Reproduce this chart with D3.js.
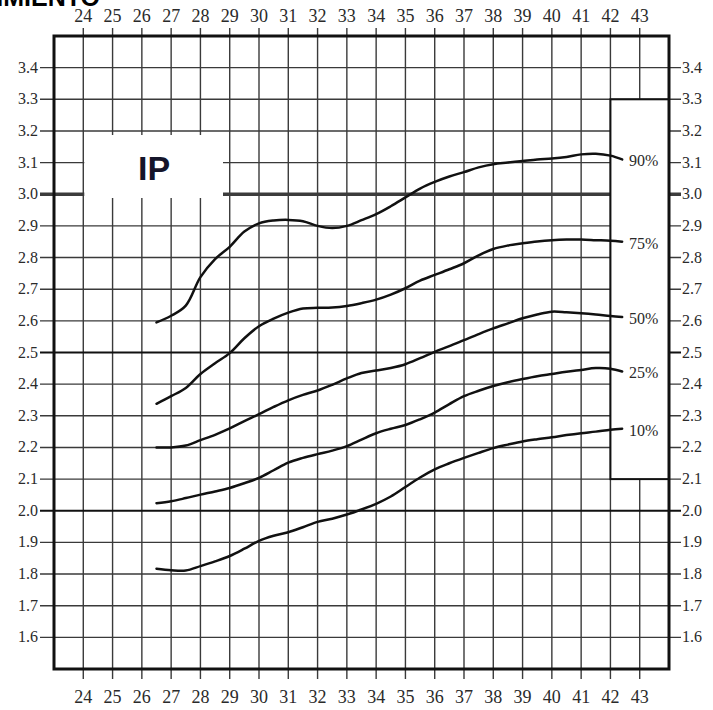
<!DOCTYPE html>
<html>
<head>
<meta charset="utf-8">
<script src="https://cdn.jsdelivr.net/npm/d3@7"></script>
<style>
  html, body { margin: 0; padding: 0; background: #fff; }
  svg { display: block; }
</style>
</head>
<body>
<div id="chart"></div>
<script>
// semanas de gestación y percentiles del IP
const weeks = [26.5, 27, 27.5, 28, 28.5, 29, 29.5, 30, 30.5, 31, 31.5, 32, 32.5, 33, 33.5, 34,
  34.5, 35, 35.5, 36, 36.5, 37, 37.5, 38, 38.5, 39, 39.5, 40, 40.5, 41, 41.5, 42, 42.4];

const p90 = [2.595, 2.616, 2.648, 2.738, 2.795, 2.834, 2.882, 2.908, 2.917, 2.919, 2.915, 2.90, 2.893,
  2.90, 2.918, 2.937, 2.962, 2.99, 3.018, 3.039, 3.056, 3.07, 3.085, 3.095, 3.10, 3.105, 3.11,
  3.113, 3.118, 3.126, 3.128, 3.122, 3.11];
const p75 = [2.338, 2.362, 2.388, 2.432, 2.466, 2.498, 2.545, 2.583, 2.607, 2.626, 2.639, 2.641, 2.642,
  2.647, 2.656, 2.667, 2.683, 2.703, 2.727, 2.745, 2.763, 2.782, 2.807, 2.827, 2.838, 2.845, 2.851,
  2.855, 2.857, 2.857, 2.855, 2.853, 2.85];
const p50 = [2.2, 2.2, 2.206, 2.223, 2.24, 2.26, 2.283, 2.305, 2.328, 2.349, 2.366, 2.38, 2.398,
  2.418, 2.435, 2.443, 2.451, 2.463, 2.482, 2.502, 2.52, 2.539, 2.558, 2.576, 2.592, 2.608, 2.62,
  2.629, 2.627, 2.624, 2.62, 2.615, 2.612];
const p25 = [2.024, 2.03, 2.04, 2.051, 2.061, 2.072, 2.087, 2.104, 2.128, 2.152, 2.167, 2.179, 2.19,
  2.204, 2.225, 2.245, 2.259, 2.271, 2.289, 2.31, 2.337, 2.362, 2.379, 2.394, 2.406, 2.416, 2.425,
  2.432, 2.439, 2.445, 2.451, 2.449, 2.44];
const p10 = [1.817, 1.812, 1.811, 1.825, 1.84, 1.857, 1.88, 1.905, 1.921, 1.932, 1.948, 1.965, 1.975,
  1.988, 2.004, 2.022, 2.045, 2.075, 2.105, 2.131, 2.15, 2.167, 2.183, 2.198, 2.209, 2.219, 2.226,
  2.232, 2.239, 2.245, 2.25, 2.256, 2.259];

const seriesNames = ["90%", "75%", "50%", "25%", "10%"];
const seriesValues = [p90, p75, p50, p25, p10];

const xTicks = d3.range(24, 44);           // 24 ... 43
const yTicks = d3.range(16, 35).map(d => d / 10); // 1.6 ... 3.4
const yThick = [3.0, 2.5, 2.0];

const width = 713, height = 710;

const svg = d3.select("#chart").append("svg")
  .attr("width", width)
  .attr("height", height);

const x = d3.scaleLinear().domain([23, 44]).range([54, 669]);
const y = d3.scaleLinear().domain([1.5, 3.5]).range([669, 36]);

// titulo cortado arriba
svg.append("text")
  .attr("x", 100).attr("y", 6)
  .attr("text-anchor", "end")
  .style("font-family", "'Liberation Sans', Arial, sans-serif")
  .style("font-weight", "bold")
  .style("font-size", "25px")
  .text("CRECIMIENTO");

// rejilla
const grid = svg.append("g");

grid.selectAll(".vline")
  .data(xTicks)
  .join("line")
  .attr("x1", d => x(d)).attr("x2", d => x(d))
  .attr("y1", 28).attr("y2", 679)
  .attr("stroke", "#3a3a3a")
  .attr("stroke-width", 1.4);

grid.selectAll(".hline")
  .data(yTicks.filter(d => !yThick.includes(d)))
  .join("line")
  .attr("x1", 40).attr("x2", 681)
  .attr("y1", d => y(d)).attr("y2", d => y(d))
  .attr("stroke", "#3a3a3a")
  .attr("stroke-width", 1.4);

grid.selectAll(".thick")
  .data(yThick)
  .join("line")
  .attr("x1", 40).attr("x2", 681)
  .attr("y1", d => y(d)).attr("y2", d => y(d))
  .attr("stroke", d => d === 3.0 ? "#3c3c3c" : "#111")
  .attr("stroke-width", d => d === 3.0 ? 3.5 : 2.2);

// caja del titulo IP
svg.append("rect")
  .attr("x", x(24) + 1).attr("y", 135)
  .attr("width", 223 - x(24) - 1).attr("height", 63)
  .attr("fill", "#fff");

svg.append("text")
  .attr("x", 154).attr("y", 180)
  .attr("text-anchor", "middle")
  .style("font-family", "'Liberation Sans', Arial, sans-serif")
  .style("font-weight", "bold")
  .style("font-size", "34px")
  .attr("fill", "#15152a")
  .text("IP");

// caja de las etiquetas de percentil
svg.append("rect")
  .attr("x", x(42)).attr("y", y(3.3))
  .attr("width", x(44) - x(42)).attr("height", y(2.1) - y(3.3))
  .attr("fill", "#fff")
  .attr("stroke", "#111")
  .attr("stroke-width", 2);

// marco
svg.append("rect")
  .attr("x", x(23)).attr("y", y(3.5))
  .attr("width", x(44) - x(23)).attr("height", y(1.5) - y(3.5))
  .attr("fill", "none")
  .attr("stroke", "#111")
  .attr("stroke-width", 3);

// etiquetas de los ejes
const serif = "'Liberation Serif', 'Times New Roman', serif";

svg.selectAll(".xtop")
  .data(xTicks)
  .join("text")
  .attr("x", d => x(d)).attr("y", 22)
  .attr("text-anchor", "middle")
  .style("font-family", serif).style("font-size", "18px")
  .attr("fill", "#2a2a2a")
  .text(d => d);

svg.selectAll(".xbot")
  .data(xTicks)
  .join("text")
  .attr("x", d => x(d)).attr("y", 703)
  .attr("text-anchor", "middle")
  .style("font-family", serif).style("font-size", "18px")
  .attr("fill", "#2a2a2a")
  .text(d => d);

svg.selectAll(".yleft")
  .data(yTicks)
  .join("text")
  .attr("x", 38).attr("y", d => y(d) + 5)
  .attr("text-anchor", "end")
  .style("font-family", serif).style("font-size", "16px")
  .attr("fill", "#2a2a2a")
  .text(d => d.toFixed(1));

svg.selectAll(".yright")
  .data(yTicks)
  .join("text")
  .attr("x", 682).attr("y", d => y(d) + 5)
  .attr("text-anchor", "start")
  .style("font-family", serif).style("font-size", "16px")
  .attr("fill", "#2a2a2a")
  .text(d => d.toFixed(1));

// curvas de percentiles
const line = d3.line()
  .x((d, i) => x(weeks[i]))
  .y(d => y(d))
  .curve(d3.curveCatmullRom);

svg.selectAll(".curve")
  .data(seriesValues)
  .join("path")
  .attr("d", line)
  .attr("fill", "none")
  .attr("stroke", "#111")
  .attr("stroke-width", 2.5)
  .attr("stroke-linecap", "round");

svg.selectAll(".plabel")
  .data(seriesNames)
  .join("text")
  .attr("x", 629)
  .attr("y", (d, i) => y(seriesValues[i][seriesValues[i].length - 1]) + 7)
  .style("font-family", serif).style("font-size", "16px")
  .attr("fill", "#2a2a2a")
  .text(d => d);
</script>
</body>
</html>
